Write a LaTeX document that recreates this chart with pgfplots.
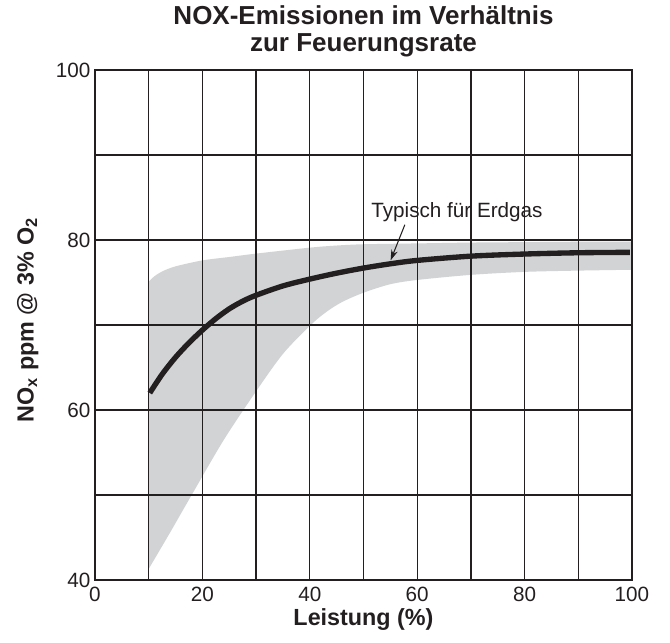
\documentclass[border=0pt]{standalone}
\usepackage{pgfplots}
\pgfplotsset{compat=1.18}
\usepgfplotslibrary{fillbetween}
\usetikzlibrary{arrows.meta}
\usepackage{fontspec}
\setmainfont{Liberation Sans}
\definecolor{band}{HTML}{D1D3D4}
\definecolor{ink}{HTML}{231F20}

\begin{document}
\begin{tikzpicture}
\begin{axis}[
 scale only axis, width=402.75pt, height=382.5pt,
 xmin=0,xmax=100,ymin=40,ymax=100,
 xtick={0,20,...,100}, minor xtick={10,30,...,90},
 ytick={40,60,80,100}, minor ytick={50,70,90},
 grid=both,
 major grid style={ink, line width=1pt},
 minor grid style={ink, line width=1pt},
 axis line style={ink, line width=1pt},
 major tick length=0pt, minor tick length=0pt,
 axis on top,
 tick label style={font=\fontsize{15.5}{18}\selectfont, text=ink},
 /pgf/number format/assume math mode=true,
 xticklabel style={yshift=-2pt},
 xlabel={Leistung (\%)},
 ylabel={NO\textsubscript{x} ppm @ 3\% O\textsubscript{2}},
 label style={font=\bfseries\fontsize{17.5}{20}\selectfont, text=ink},
 xlabel style={at={(rel axis cs:0.5,-0.078)}, anchor=center},
 ylabel style={at={(rel axis cs:-0.125,0.51)}, anchor=center},
 title={NOX-Emissionen im Verhältnis\\zur Feuerungsrate},
 title style={font=\bfseries\fontsize{19.5}{20.5}\selectfont, align=center, at={(rel axis cs:0.5,1)}, anchor=south, yshift=0pt, text=ink},
]
\addplot[name path=lo, draw=none, smooth] coordinates {
 (10,41.3) (14,45.6) (18,50) (24,56.5) (30,62.2) (35,66.6) (40,69.9) (43,71.5) (46,72.7) (50,73.8) (55,74.8) (60,75.3) (70,75.9) (80,76.25) (90,76.4) (100,76.5)};
\addplot[name path=up, draw=none, smooth] coordinates {
 (10,75.1) (11,75.7) (12.5,76.3) (15,76.9) (20,77.6) (25,78.0) (30,78.4) (40,79.1) (45,79.35) (50,79.5) (60,79.6) (70,79.7) (80,79.75) (90,79.8) (100,79.8)};
\addplot[band, draw=none] fill between[of=lo and up];
\addplot[ink, line width=4pt, smooth] coordinates {
 (10.2,62.0) (12.5,64.2) (15,66.2) (17.5,67.9) (20,69.4) (22.5,70.75) (25,71.9) (27.5,72.8) (30,73.5) (35,74.6) (40,75.4) (45,76.1) (50,76.7) (55,77.2) (60,77.6) (70,78.1) (80,78.35) (90,78.5) (99.6,78.55)};
\coordinate (lab) at (axis cs:67.4,82.67);
\coordinate (a1) at (axis cs:57.7,81.8);
\coordinate (a2) at (axis cs:55.05,77.6);
\coordinate (bbA) at (rel axis cs:-0.1769,-0.1235);
\coordinate (bbB) at (rel axis cs:1.0708,1.1373);
\end{axis}
\node[fill=white, anchor=base, inner xsep=5pt, inner ysep=2pt, text=ink, font=\fontsize{15.5}{18}\selectfont] at (lab) {Typisch für Erdgas};
\draw[ink, line width=0.8pt, -{Stealth[length=8pt,width=5pt]}] (a1) -- (a2);
\path (bbA) rectangle (bbB);
\end{tikzpicture}
\end{document}
